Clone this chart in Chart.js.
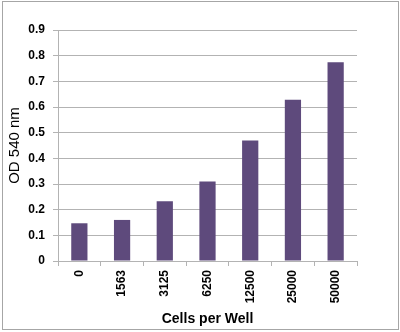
<!DOCTYPE html>
<html lang="en">
<head>
<meta charset="UTF-8"/>
<title>OD 540 nm vs Cells per Well</title>
<script src="https://cdn.jsdelivr.net/npm/chart.js@4/dist/chart.umd.min.js"></script>
<style>
  *{box-sizing:border-box;margin:0;padding:0}
  body{background:#fff;width:400px;height:332px;overflow:hidden}
  .wrap{position:relative;width:400px;height:332px}
  .frame{position:absolute;left:2px;top:1px;width:397px;height:329px;border:1px solid #a6a6a6;pointer-events:none}
  canvas{position:absolute;left:0;top:0}
</style>
</head>
<body>
<div class="wrap">
  <canvas id="chart" width="400" height="332"></canvas>
  <div class="frame"></div>
</div>
<script>
// cell counts seeded per well and the absorbance read at 540 nm
const cells = ['0', '1563', '3125', '6250', '12500', '25000', '50000'];
const od540 = [0.147, 0.16, 0.233, 0.31, 0.469, 0.628, 0.774];

const yMin = 0;
const yMax = 0.9;
const yStep = 0.1;

const GRID = '#b3b3b3';
const TICK_FONT = { family: 'Liberation Sans', size: 12, weight: 'bold' };

new Chart(document.getElementById('chart'), {
  type: 'bar',
  data: {
    labels: cells,
    datasets: [{
      label: 'OD 540 nm',
      data: od540,
      backgroundColor: '#5e4a7c',
      borderWidth: 0,
      categoryPercentage: 1,
      barPercentage: 0.38,
    }]
  },
  options: {
    responsive: false,
    animation: false,
    layout: { padding: { left: 0, right: 43, top: 30, bottom: 0 } },
    plugins: { legend: { display: false }, tooltip: { enabled: false } },
    scales: {
      x: {
        grid: { drawOnChartArea: false, color: GRID, tickLength: 5, offset: true },
        border: { color: GRID },
        ticks: { color: '#000', font: TICK_FONT, minRotation: 90, maxRotation: 90, padding: 4 },
        title: {
          display: true, text: 'Cells per Well', color: '#000',
          font: { family: 'Liberation Sans', size: 14, weight: 'bold' },
          padding: { top: 0, bottom: 4 }
        },
        afterFit: s => { s.height = 71; }
      },
      y: {
        min: yMin,
        max: yMax,
        grid: { color: GRID, tickLength: 5 },
        border: { color: GRID },
        ticks: {
          stepSize: yStep, color: '#000', font: TICK_FONT, padding: 8,
          callback: v => String(+v.toFixed(1))
        },
        title: {
          display: true, text: 'OD 540 nm', color: '#000',
          font: { family: 'Liberation Sans', size: 15 },
          padding: { top: 6, bottom: 0 }
        },
        afterFit: s => { s.width = 58; }
      }
    }
  }
});
</script>
</body>
</html>
